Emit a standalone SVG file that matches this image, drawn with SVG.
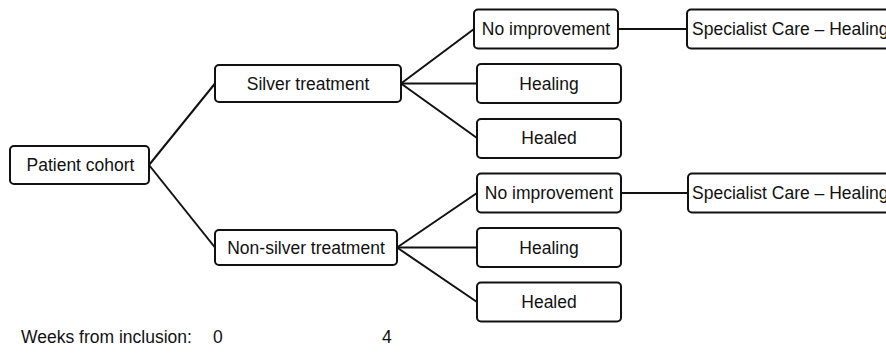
<svg xmlns="http://www.w3.org/2000/svg" width="886" height="353" viewBox="0 0 886 353">
<style>
.box{fill:#fff;stroke:#111;stroke-width:2}
.lbl{font-family:"Liberation Sans",Arial,sans-serif;font-size:17.5px;fill:#111;text-anchor:middle;dominant-baseline:central}
.ax{font-family:"Liberation Sans",Arial,sans-serif;font-size:17.5px;fill:#111}
.c{stroke:#111;stroke-width:2;fill:none}
</style>
<rect width="886" height="353" fill="#fff"/>
<g id="connectors">
<line class="c" x1="149" y1="165" x2="215" y2="83.5"/>
<line class="c" x1="149" y1="165" x2="215" y2="247.5"/>
<line class="c" x1="401" y1="83.5" x2="474" y2="29"/>
<line class="c" x1="401" y1="83.5" x2="477" y2="83.5"/>
<line class="c" x1="401" y1="83.5" x2="477" y2="138"/>
<line class="c" x1="397" y1="247.5" x2="477" y2="193"/>
<line class="c" x1="397" y1="247.5" x2="477" y2="247.5"/>
<line class="c" x1="397" y1="247.5" x2="477" y2="302"/>
<line class="c" x1="618" y1="29" x2="687" y2="29"/>
<line class="c" x1="621" y1="193" x2="688" y2="193"/>
</g>
<g id="patient-cohort"><rect class="box" x="10" y="146" width="139" height="38" rx="4"/><text class="lbl" x="80.5" y="165">Patient cohort</text></g>
<g id="silver"><rect class="box" x="215" y="65" width="186" height="37" rx="4"/><text class="lbl" x="308" y="83.5">Silver treatment</text></g>
<g id="non-silver"><rect class="box" x="215" y="230" width="182" height="35" rx="4"/><text class="lbl" x="306" y="247.5">Non-silver treatment</text></g>
<g id="s-noimp"><rect class="box" x="474" y="9.5" width="144" height="39" rx="4"/><text class="lbl" x="546" y="29">No improvement</text></g>
<g id="s-healing"><rect class="box" x="477" y="64" width="144" height="39" rx="4"/><text class="lbl" x="549" y="83.5">Healing</text></g>
<g id="s-healed"><rect class="box" x="477" y="119" width="144" height="39" rx="4"/><text class="lbl" x="549" y="138">Healed</text></g>
<g id="s-specialist"><rect class="box" x="687" y="9.5" width="220" height="39" rx="4"/><text class="ax" x="692" y="29" dominant-baseline="central">Specialist Care – Healing</text></g>
<g id="n-noimp"><rect class="box" x="477" y="173.5" width="144" height="39" rx="4"/><text class="lbl" x="549" y="193">No improvement</text></g>
<g id="n-healing"><rect class="box" x="477" y="228" width="144" height="39" rx="4"/><text class="lbl" x="549" y="247.5">Healing</text></g>
<g id="n-healed"><rect class="box" x="477" y="282.5" width="144" height="39" rx="4"/><text class="lbl" x="549" y="302">Healed</text></g>
<g id="n-specialist"><rect class="box" x="688" y="173.5" width="220" height="39" rx="4"/><text class="ax" x="692" y="193" dominant-baseline="central">Specialist Care – Healing</text></g>
<g id="axis">
<text class="ax" x="21" y="342.5">Weeks from inclusion:</text>
<text class="ax" x="213" y="342.5">0</text>
<text class="ax" x="382" y="342.5">4</text>
</g>
</svg>
